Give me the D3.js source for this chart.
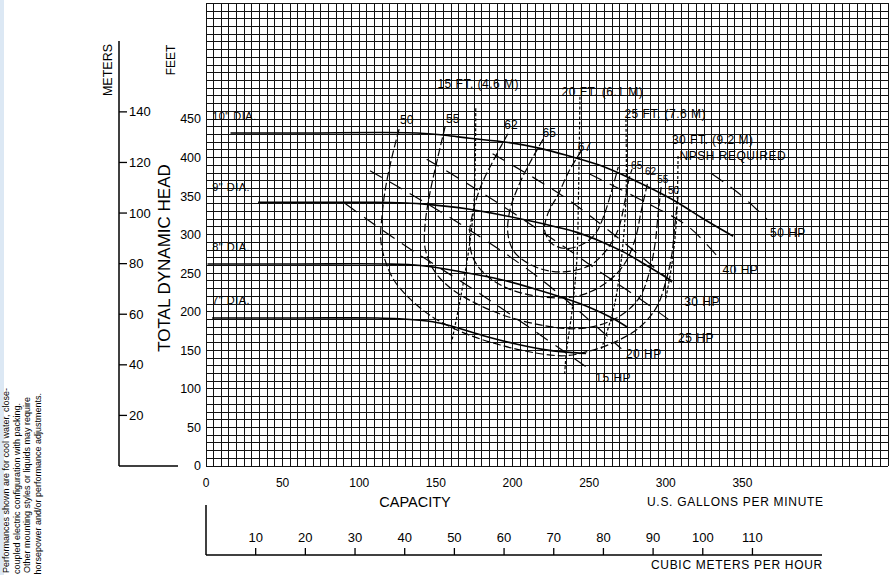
<!DOCTYPE html>
<html><head><meta charset="utf-8">
<script src="https://cdn.jsdelivr.net/npm/d3@7/dist/d3.min.js"></script>
<style>
body{margin:0;background:#fff}
svg{display:block}
text{font-family:"Liberation Sans",Arial,Helvetica,sans-serif;fill:#000}
</style>
</head><body>
<svg id="c" width="890" height="575"></svg>
<script>
// ---------- DATA ----------
const gpmTicks   = [0,50,100,150,200,250,300,350];
const feetTicks  = [0,50,100,150,200,250,300,350,400,450];
const meterTicks = [20,40,60,80,100,120,140];
const cmhTicks   = [10,20,30,40,50,60,70,80,90,100,110];

// head-capacity curves by impeller diameter  [gpm, feet]
const dia10 = [[16,432],[60,432],[138,432],[156,429],[172,425],[196,420],[218,412],[237,402],[257,390],[278,372],[304,346],[325,320],[344,298]];
const dia9  = [[34,342],[80,342],[110,342],[131,341],[141,340],[172,333],[211,318],[242,303],[258,291],[272,278],[286,262],[304,240]];
const dia8  = [[1,262],[60,262],[118,262],[140,260],[166,252],[192,242],[214,230],[235,217],[250,206],[265,192],[275,180]];
const dia7  = [[4,192],[60,192],[112,192],[126,191],[148,187],[161,181],[181,169],[203,158],[224,150],[240,147],[248,146]];
const diaNames = ['10" DIA.','9" DIA.','8" DIA.','7" DIA.'];
const diaLabelAt = [[4,454],[4,362],[4,284],[4,215]];

// iso-efficiency curves (%)  [gpm, feet]
const eff50 = [[126,437],[121,398],[117,359],[115,327],[114,294],[117,266],[123,240],[133,217],[148,193],[169,172],[192,157],[214,147],[234,143],[250,149],[267,161],[283,180],[294,206],[300,239],[304,275],[306,314],[308,349]];
const eff55 = [[156,440],[151,398],[146,353],[143,314],[143,282],[149,253],[160,230],[177,210],[198,193],[221,182],[240,178],[257,183],[272,197],[283,219],[289,249],[293,288],[295,327],[297,362]];
const eff62 = [[197,431],[188,398],[180,366],[175,336],[172,301],[174,271],[182,249],[195,232],[211,222],[231,218],[247,223],[262,239],[273,262],[280,294],[284,331],[288,366]];
const eff65 = [[220,424],[211,392],[203,359],[198,329],[197,301],[201,278],[211,262],[224,253],[239,253],[252,262],[262,282],[269,307],[273,340],[276,372],[278,385]];
const eff67 = [[245,409],[237,383],[230,353],[223,327],[221,305],[226,288],[235,282],[245,287],[254,301],[260,327],[265,359],[269,388]];
const effLabelsLeft  = [["50",131,449],["55",161,450],["62",199,442],["65",224,432],["67",247,414]];
const effLabelsRight = [["65",281,390],["62",290,382],["55",298,371],["50",305,357]];

// NPSH required lines  [gpm, feet]
const npsh15 = [[176,464],[175,346],[172,288],[166,217],[160,158]];
const npsh20 = [[244,479],[243,346],[242,268],[239,204],[235,145],[234,118]];
const npsh25 = [[274,450],[274,346],[271,268],[266,204],[258,152]];
const npsh30 = [[308,402],[307,320],[304,262],[300,217]];
const npshLabels = [["15 FT. (4.6 M)",151,496],["20 FT. (6.1 M)",232,485],["25 FT. (7.6 M)",273,457],["30 FT. (9.2 M)",304,423],["NPSH REQUIRED",309,402]];

// horsepower lines  [gpm, feet]
const hp15 = [[91,340],[126,291],[179,223],[250,126]];
const hp20 = [[107,383],[161,320],[218,243],[271,152]];
const hp25 = [[144,398],[174,362],[231,288],[257,252],[283,217],[306,184]];
const hp30 = [[187,405],[233,350],[270,294],[309,230]];
const hp40 = [[250,379],[283,346],[315,310],[334,271]];
const hp50 = [[330,379],[348,353],[366,320]];
const hpLabels = [["50 HP",368,303],["40 HP",337,255],["30 HP",312,213],["25 HP",308,166],["20 HP",274,145],["15 HP",254,115]];

const noteLines = ["Performances shown are for cool water, close-","coupled electric configuration with packing.","Other mounting styles or liquids may require","horsepower and/or performance adjustments."];

// ---------- SCALES ----------
const x  = d3.scaleLinear().domain([0,445]).range([206,888]);
const y  = d3.scaleLinear().domain([0,600]).range([466,3.4]);
const yM = d3.scaleLinear().domain([0,600/3.2808]).range([466,3.4]);
const xC = d3.scaleLinear().domain([0,124]).range([206,822]);

const svg = d3.select("#c");
svg.append("rect").attr("width",890).attr("height",575).attr("fill","#fff");
svg.append("rect").attr("x",0).attr("y",0).attr("width",4).attr("height",575).attr("fill","#dce8f4");

// ---------- GRID ----------
const g = svg.append("g").attr("stroke","#111").attr("stroke-width",1).attr("shape-rendering","crispEdges");
g.selectAll("line.v").data(d3.range(0,446,5)).join("line").attr("class","v")
  .attr("x1",d=>x(d)).attr("x2",d=>x(d)).attr("y1",y(0)).attr("y2",y(600));
g.selectAll("line.h").data(d3.range(0,601,10)).join("line").attr("class","h")
  .attr("y1",d=>y(d)).attr("y2",d=>y(d)).attr("x1",x(0)).attr("x2",x(445));

// ---------- CURVES ----------
const line = d3.line().x(d=>x(d[0])).y(d=>y(d[1])).curve(d3.curveCatmullRom.alpha(0.5));
const curves = svg.append("g").attr("fill","none").attr("stroke","#000");

[dia10,dia9,dia8,dia7].forEach(c=>{
  curves.append("path").attr("d",line(c)).attr("stroke-width",1.6);
});
[eff50,eff55,eff62,eff65,eff67].forEach(c=>{
  curves.append("path").attr("d",line(c)).attr("stroke-width",1.2).attr("stroke-dasharray","8,3");
});
[npsh15,npsh20,npsh25,npsh30].forEach(c=>{
  curves.append("path").attr("d",line(c)).attr("stroke-width",1.2).attr("stroke-dasharray","3,2");
});
[hp15,hp20,hp25,hp30,hp40,hp50].forEach(c=>{
  curves.append("path").attr("d",line(c)).attr("stroke-width",1.2).attr("stroke-dasharray","14,9");
});

// ---------- CURVE LABELS ----------
const lab = svg.append("g");
diaNames.forEach((t,i)=>{
  lab.append("text").attr("x",x(diaLabelAt[i][0])).attr("y",y(diaLabelAt[i][1])).attr("dy","0.35em")
    .attr("font-size",11).attr("letter-spacing",0.5).text(t);
});
effLabelsLeft.forEach(d=>{
  lab.append("text").attr("x",x(d[1])).attr("y",y(d[2])).attr("dy","0.35em").attr("text-anchor","middle")
    .attr("font-size",12).text(d[0]);
});
effLabelsRight.forEach(d=>{
  lab.append("text").attr("x",x(d[1])).attr("y",y(d[2])).attr("dy","0.35em").attr("text-anchor","middle")
    .attr("font-size",10).text(d[0]);
});
npshLabels.forEach(d=>{
  lab.append("text").attr("x",x(d[1])).attr("y",y(d[2])).attr("dy","0.35em")
    .attr("font-size",12).attr("letter-spacing",0.5).text(d[0]);
});
hpLabels.forEach(d=>{
  lab.append("text").attr("x",x(d[1])).attr("y",y(d[2])).attr("dy","0.35em")
    .attr("font-size",12).attr("letter-spacing",0.5).text(d[0]);
});

// ---------- FEET AXIS ----------
const ax = svg.append("g");
feetTicks.forEach(v=>{
  ax.append("text").attr("x",201).attr("y",y(v)).attr("dy","0.35em").attr("text-anchor","end")
    .attr("font-size",12.5).text(v);
});

// ---------- METERS AXIS ----------
ax.append("line").attr("x1",119).attr("x2",119).attr("y1",yM(0)).attr("y2",yM(168))
  .attr("stroke","#000").attr("stroke-width",1.5);
ax.append("line").attr("x1",119).attr("x2",178).attr("y1",yM(0)).attr("y2",yM(0))
  .attr("stroke","#000").attr("stroke-width",1.5);
meterTicks.forEach(v=>{
  ax.append("line").attr("x1",119).attr("x2",127).attr("y1",yM(v)).attr("y2",yM(v))
    .attr("stroke","#000").attr("stroke-width",1.3);
  ax.append("text").attr("x",129).attr("y",yM(v)).attr("dy","0.35em").attr("font-size",13).text(v);
});
ax.append("text").attr("transform","translate(108,70) rotate(-90)").attr("text-anchor","middle")
  .attr("dy","0.35em").attr("font-size",12.5).text("METERS");
ax.append("text").attr("transform","translate(171,60) rotate(-90)").attr("text-anchor","middle")
  .attr("dy","0.35em").attr("font-size",12).text("FEET");
ax.append("text").attr("transform","translate(164,258) rotate(-90)").attr("text-anchor","middle")
  .attr("dy","0.35em").attr("font-size",17).text("TOTAL DYNAMIC HEAD");

// ---------- GPM AXIS ----------
gpmTicks.forEach(v=>{
  ax.append("text").attr("x",x(v)).attr("y",483).attr("dy","0.35em").attr("text-anchor","middle")
    .attr("font-size",12).text(v);
});
ax.append("text").attr("x",415).attr("y",502).attr("dy","0.35em").attr("text-anchor","middle")
  .attr("font-size",14.5).text("CAPACITY");
ax.append("text").attr("x",647).attr("y",502).attr("dy","0.35em")
  .attr("font-size",12).attr("letter-spacing",0.7).text("U.S. GALLONS PER MINUTE");

// ---------- CUBIC METERS PER HOUR AXIS ----------
ax.append("line").attr("x1",xC(0)).attr("x2",xC(0)).attr("y1",505).attr("y2",555).attr("stroke","#000").attr("stroke-width",1.5);
ax.append("line").attr("x1",xC(0)).attr("x2",xC(124)).attr("y1",555).attr("y2",555).attr("stroke","#000").attr("stroke-width",1.5);
cmhTicks.forEach(v=>{
  ax.append("line").attr("x1",xC(v)).attr("x2",xC(v)).attr("y1",548).attr("y2",555).attr("stroke","#000").attr("stroke-width",1.3);
  ax.append("text").attr("x",xC(v)).attr("y",537).attr("dy","0.35em").attr("text-anchor","middle")
    .attr("font-size",13).text(v);
});
ax.append("text").attr("x",823).attr("y",565).attr("dy","0.35em").attr("text-anchor","end")
  .attr("font-size",12).attr("letter-spacing",0.7).text("CUBIC METERS PER HOUR");

// ---------- SIDE NOTE ----------
const noteX = [6,16.5,27,37.5], noteTop = [388,403,397,393];
noteLines.forEach((t,i)=>{
  ax.append("text").attr("transform",`translate(${noteX[i]},${noteTop[i]}) rotate(-90)`)
    .attr("text-anchor","end").attr("dy","0.35em").attr("font-size",9).text(t);
});
</script>
</body></html>
